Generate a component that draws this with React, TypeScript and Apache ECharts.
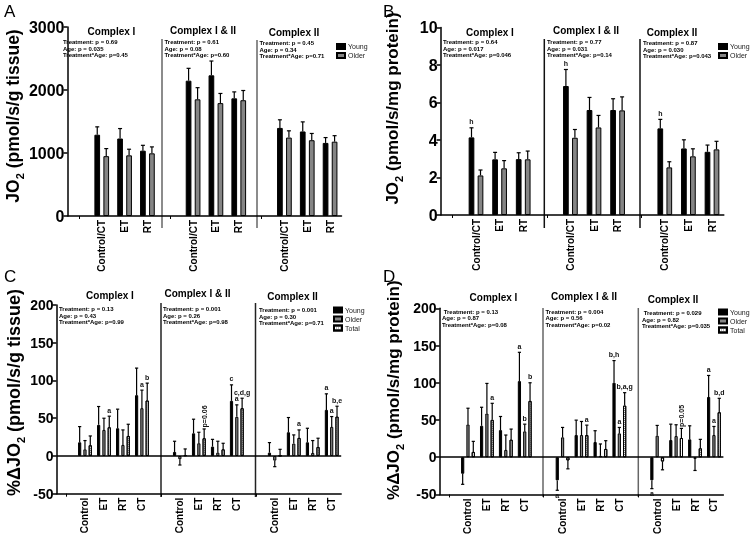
import React, { useEffect, useRef } from 'react';
import * as echarts from 'echarts';

const FONT = 'Liberation Sans';

// ---------- categories ----------
const catsAB = ['', 'Control/CT', 'ET', 'RT', '', 'Control/CT', 'ET', 'RT', '', 'Control/CT', 'ET', 'RT'];
const catsCD = ['', 'Control', 'ET', 'RT', 'CT', '', 'Control', 'ET', 'RT', 'CT', '', 'Control', 'ET', 'RT', 'CT'];

// ---------- Panel A : JO2 (pmol/s/g tissue) ----------
const aYoung = [null, 1290, 1230, 1037, null, 2148, 2233, 1868, null, 1398, 1342, 1160];
const aYoungErr = [null, 125, 158, 85, null, 196, 227, 102, null, 129, 152, 85];
const aOlder = [null, 950, 963, 995, null, 1852, 1792, 1838, null, 1245, 1203, 1180];
const aOlderErr = [null, 120, 97, 102, null, 185, 153, 154, null, 107, 107, 95];

// ---------- Panel B : JO2 (pmol/s/mg protein) ----------
const bYoung = [null, 4.14, 2.97, 2.98, null, 6.88, 5.6, 5.6, null, 4.62, 3.55, 3.37];
const bYoungErr = [null, 0.51, 0.37, 0.34, null, 0.88, 0.67, 0.6, null, 0.48, 0.46, 0.36];
const bYoungNote = ['', 'h', '', '', '', 'h', '', '', '', 'h', '', ''];
const bOlder = [null, 2.11, 2.49, 2.97, null, 4.12, 4.67, 5.58, null, 2.54, 3.13, 3.5];
const bOlderErr = [null, 0.29, 0.41, 0.44, null, 0.44, 0.64, 0.72, null, 0.3, 0.4, 0.43];

// ---------- Panel C : %ΔJO2 (pmol/s/g tissue) ----------
const cYoung = [null, 18.1, 41.2, 36.7, 80.5, null, 5.3, 30, 12.4, 73, null, 4.4, 31.4, 18.1, 61];
const cYoungErr = [null, 20.8, 24.3, 25.3, 35.9, null, 14.2, 18.7, 9.6, 21.2, null, 13.3, 19.5, 18.6, 21.3];
const cYoungNote = ['', '', '', '', '', '', '', '', '', 'c', '', '', '', '', 'a'];
const cOlder = [null, 8.8, 34.5, 14.6, 63.3, null, -4.4, 16.8, 4.4, 51.8, null, -6.2, 16.4, 4, 38.5];
const cOlderErr = [null, 11.6, 15.5, 19.9, 23.9, null, 7.6, 14.6, 15.1, 15.9, null, 8, 11.5, 16.4, 13.7];
const cOlderNote = ['', '', '', '', 'a', '', '', '', '', 'a', '', '', '', '', 'a'];
const cTotal = [null, 14.2, 38, 26.5, 73.5, null, 0.9, 23.5, 8.8, 63.3, null, 0.5, 23.9, 11.9, 52.2];
const cTotalErr = [null, 12.3, 14.7, 15.5, 23, null, 8.4, 12.3, 8, 13.2, null, 8.3, 10.6, 11.6, 13.7];
const cTotalNote = ['', '', 'a', '', 'b', '', '', 'p=0.06', '', 'c,d,g', '', '', 'a', '', 'b,e'];

// ---------- Panel D : %ΔJO2 (pmol/s/mg protein) ----------
const dYoung = [null, -22.2, 42.2, 36.4, 102.2, null, -31.1, 29.8, 20.4, 100, null, -31.1, 23.1, 24, 80.9];
const dYoungErr = [null, 14.2, 24.9, 18.3, 38.7, null, 13.3, 20, 15.2, 29.8, null, 11.1, 21.3, 18.2, 28.9];
const dYoungNote = ['', '', '', '', 'a', '', 'a', '', '', 'b,h', '', 'a', '', '', 'a'];
const dOlder = [null, 44, 58.7, 9.8, 34.7, null, 26.7, 29.8, 1.8, 32, null, 28.9, 28.4, -2.2, 29.8];
const dOlderErr = [null, 21.8, 40.4, 20, 9.7, null, 13.3, 18.2, 16, 8, null, 13.8, 15.2, 15.6, 11.5];
const dOlderNote = ['', '', '', '', 'b', '', '', '', '', 'a', '', '', '', '', 'a'];
const dTotal = [null, 7.1, 50.2, 23.6, 75.6, null, -4.4, 29.8, 11.1, 69.3, null, -5.8, 25.8, 12, 60.4];
const dTotalErr = [null, 14.2, 22.2, 14.2, 24.4, null, 11.2, 13.3, 11.1, 17.4, null, 11.1, 12.9, 12, 18.7];
const dTotalNote = ['', '', 'a', '', 'b', '', '', 'a', '', 'b,a,g', '', '', 'p=0.05', '', 'b,d'];

// ---------- texts ----------
const sectionTitles = ['Complex I', 'Complex I & II', 'Complex II'];
const statsA = [
  'Treatment: p = 0.69\nAge: p = 0.035\nTreatment*Age: p=0.45',
  'Treatment: p = 0.61\nAge: p = 0.08\nTreatment*Age: p=0.60',
  'Treatment: p = 0.45\nAge: p = 0.34\nTreatment*Age: p=0.71',
];
const statsB = [
  'Treatment: p = 0.64\nAge: p = 0.017\nTreatment*Age: p=0.046',
  'Treatment: p = 0.77\nAge: p = 0.031\nTreatment*Age: p=0.14',
  'Treatment: p = 0.87\nAge: p = 0.030\nTreatment*Age: p=0.043',
];
const statsC = [
  'Treatment: p = 0.13\nAge: p = 0.43\nTreatment*Age: p=0.99',
  'Treatment: p = 0.001\nAge: p = 0.26\nTreatment*Age: p=0.98',
  'Treatment: p = 0.001\nAge: p = 0.30\nTreatment*Age: p=0.71',
];
const statsD = [
  ' Treatment: p = 0.13\nAge: p = 0.87\nTreatment*Age: p=0.08',
  'Treatment: p = 0.004\nAge: p = 0.56\nTreatment*Age: p=0.02',
  ' Treatment: p = 0.029\nAge: p = 0.82\nTreatment*Age: p=0.035',
];

const YOUNG_COLOR = '#000000';
const OLDER_COLOR = '#858585';
const totalDecal = {
  symbol: 'rect',
  symbolSize: 1,
  dashArrayX: [1, 1],
  dashArrayY: [1, 1],
  color: '#7a7a7a',
  rotation: 0,
};

type SeriesDef = { name: string; data: (number | null)[]; err: (number | null)[]; note?: string[] };
type PanelDef = {
  letter: string;
  cats: string[];
  grid: { left: number; top: number; width: number; height: number };
  min: number;
  max: number;
  interval: number;
  name: string;
  nameSize: number;
  nameGap: number;
  namePad: number;
  barWidth: number;
  barGapPct: number;
  cap: number;
  tickFont: number;
  series: SeriesDef[];
  zeroLine: boolean;
};

const panels: PanelDef[] = [
  {
    letter: 'A',
    cats: catsAB,
    grid: { left: 58, top: 27, width: 283.5, height: 189 },
    min: 0, max: 3000, interval: 1000,
    name: 'JO{s|2} (pmol/s/g tissue)', nameSize: 17.5, nameGap: 32, namePad: 11,
    barWidth: 5.7, barGapPct: 58, cap: 2, tickFont: 16,
    series: [
      { name: 'Young', data: aYoung, err: aYoungErr },
      { name: 'Older', data: aOlder, err: aOlderErr },
    ],
    zeroLine: false,
  },
  {
    letter: 'B',
    cats: catsAB,
    grid: { left: 440.6, top: 27.5, width: 283.2, height: 187.5 },
    min: 0, max: 10, interval: 2,
    name: 'JO{s|2} (pmol/s/mg protein)', nameSize: 17, nameGap: 36, namePad: 25.5,
    barWidth: 5.7, barGapPct: 58, cap: 2, tickFont: 16,
    series: [
      { name: 'Young', data: bYoung, err: bYoungErr, note: bYoungNote },
      { name: 'Older', data: bOlder, err: bOlderErr },
    ],
    zeroLine: false,
  },
  {
    letter: 'C',
    cats: catsCD,
    grid: { left: 56.5, top: 305, width: 284.7, height: 188.7 },
    min: -50, max: 200, interval: 50,
    name: '%ΔJO{s|2} (pmol/s/g tissue)', nameSize: 18, nameGap: 29.5, namePad: 13.7,
    barWidth: 3.2, barGapPct: 66, cap: 1.6, tickFont: 14,
    series: [
      { name: 'Young', data: cYoung, err: cYoungErr, note: cYoungNote },
      { name: 'Older', data: cOlder, err: cOlderErr, note: cOlderNote },
      { name: 'Total', data: cTotal, err: cTotalErr, note: cTotalNote },
    ],
    zeroLine: true,
  },
  {
    letter: 'D',
    cats: catsCD,
    grid: { left: 439.6, top: 308.3, width: 283.8, height: 187.7 },
    min: -50, max: 200, interval: 50,
    name: '%ΔJO{s|2} (pmol/s/mg protein)', nameSize: 17, nameGap: 34, namePad: 22.3,
    barWidth: 3.2, barGapPct: 66, cap: 1.6, tickFont: 14,
    series: [
      { name: 'Young', data: dYoung, err: dYoungErr, note: dYoungNote },
      { name: 'Older', data: dOlder, err: dOlderErr, note: dOlderNote },
      { name: 'Total', data: dTotal, err: dTotalErr, note: dTotalNote },
    ],
    zeroLine: true,
  },
];

// layout of free texts (pixel positions)
const letterPos = [[4, 3], [383, 3], [4, 268], [383, 268]];
const titlePos = [
  [[111.5, 31], [203, 30], [294, 32]],
  [[490, 32], [586, 30], [672, 32]],
  [[110, 295], [197.5, 293], [292.5, 296]],
  [[493.5, 297], [584, 296], [673, 299]],
];
const statsPos = [
  [[63, 39], [164.5, 39], [259.5, 40]],
  [[443, 39], [547, 39], [643, 40]],
  [[59, 306], [163, 306], [259, 307]],
  [[442, 308.5], [545.5, 308.5], [642, 310]],
];
const statsTexts = [statsA, statsB, statsC, statsD];
const dividers = [
  [[162, 39, 228, '#666'], [257, 40, 228, '#666']],
  [[544.3, 39, 228, '#111'], [640, 39, 228, '#111']],
  [[161, 303, 497, '#222'], [255.5, 303, 497, '#222']],
  [[543, 308, 497, '#666'], [638.3, 308, 497, '#666']],
];
const legendPos = [[336, 43], [718, 43], [333, 306.5], [718, 308.5]];

function noteStyle(text: string, align: string, vAlign: string) {
  return {
    legacy: false,
    text,
    fill: '#111',
    textFill: '#111',
    font: `bold 7px "${FONT}"`,
    fontSize: 7,
    fontWeight: 'bold',
    fontFamily: FONT,
    align, textAlign: align,
    verticalAlign: vAlign, textVerticalAlign: vAlign,
  };
}

function buildOption() {
  const grids: any[] = [];
  const xAxes: any[] = [];
  const yAxes: any[] = [];
  const series: any[] = [];
  const legends: any[] = [];
  const graphics: any[] = [];

  panels.forEach((p, g) => {
    grids.push({ ...p.grid, containLabel: false });
    xAxes.push({
      type: 'category',
      gridIndex: g,
      data: p.cats,
      boundaryGap: true,
      axisLine: { show: true, onZero: false, lineStyle: { color: '#000', width: 1.5 } },
      axisTick: {
        show: true,
        alignWithLabel: true,
        interval: (_i: number, v: string) => v === '',
        length: 3,
        lineStyle: { color: '#000', width: 1 },
      },
      axisLabel: {
        interval: 0,
        rotate: 90,
        fontSize: 10,
        fontWeight: 'bold',
        color: '#000',
        margin: 4,
        fontFamily: FONT,
      },
      splitLine: { show: false },
    });
    yAxes.push({
      type: 'value',
      gridIndex: g,
      min: p.min,
      max: p.max,
      interval: p.interval,
      axisLine: { show: true, lineStyle: { color: '#000', width: 1.5 } },
      axisTick: { show: true, length: 4, lineStyle: { color: '#000', width: 1.5 } },
      axisLabel: {
        fontSize: p.tickFont,
        fontWeight: 'bold',
        color: '#000',
        margin: 3,
        fontFamily: FONT,
        formatter: (v: number) => String(v),
      },
      splitLine: { show: false },
      name: p.name,
      nameLocation: 'middle',
      nameGap: p.nameGap,
      nameTextStyle: {
        fontSize: p.nameSize,
        fontWeight: 'bold',
        color: '#000',
        fontFamily: FONT,
        lineHeight: 24,
        padding: [0, 0, 0, p.namePad],
        rich: {
          s: { fontSize: 11, fontWeight: 'bold', color: '#000', fontFamily: FONT, verticalAlign: 'bottom', lineHeight: 11 },
        },
      },
    });

    const n = p.series.length;
    const gap = (p.barWidth * p.barGapPct) / 100;
    const total = n * p.barWidth + (n - 1) * gap;

    p.series.forEach((s, k) => {
      const isTotal = s.name === 'Total';
      const bar: any = {
        type: 'bar',
        name: s.name,
        xAxisIndex: g,
        yAxisIndex: g,
        data: s.data,
        barWidth: p.barWidth,
        barGap: p.barGapPct + '%',
        z: 2,
        silent: true,
        itemStyle: {
          color: s.name === 'Young' ? YOUNG_COLOR : s.name === 'Older' ? OLDER_COLOR : '#ffffff',
          borderColor: '#000',
          borderWidth: 1,
          decal: isTotal ? totalDecal : undefined,
        },
      };
      if (k === 0 && p.zeroLine) {
        bar.markLine = {
          silent: true,
          symbol: ['none', 'none'],
          label: { show: false },
          lineStyle: { color: '#000', width: 1.5, type: 'solid' },
          data: [{ yAxis: 0 }],
        };
      }
      series.push(bar);

      const offset = -total / 2 + p.barWidth / 2 + k * (p.barWidth + gap);
      const note = s.note;
      const cap = p.cap;
      const errData: any[] = [];
      s.data.forEach((v, i) => {
        if (v !== null && s.err[i] !== null) errData.push([i, v, s.err[i]]);
      });
      series.push({
        type: 'custom',
        name: s.name + ' error',
        xAxisIndex: g,
        yAxisIndex: g,
        z: 3,
        silent: true,
        itemStyle: { color: '#000' },
        data: errData,
        renderItem: (_params: any, api: any) => {
          const i = api.value(0);
          const v = api.value(1);
          const e = api.value(2);
          const sgn = v < 0 ? -1 : 1;
          const base = api.coord([i, v]);
          const tip = api.coord([i, v + sgn * e]);
          const x = base[0] + offset;
          const children: any[] = [
            { type: 'line', shape: { x1: x, y1: base[1], x2: x, y2: tip[1] }, style: { stroke: '#000', lineWidth: 1.2 } },
            { type: 'line', shape: { x1: x - cap, y1: tip[1], x2: x + cap, y2: tip[1] }, style: { stroke: '#000', lineWidth: 1.2 } },
          ];
          const label = note ? note[i] : '';
          if (label) {
            if (label.startsWith('p=')) {
              children.push({
                type: 'text',
                x: x,
                y: tip[1] - 1.5,
                rotation: Math.PI / 2,
                style: noteStyle(label, 'left', 'middle'),
              });
            } else {
              const below = sgn < 0;
              children.push({
                type: 'text',
                x: x,
                y: below ? tip[1] + 1.5 : tip[1] - 2.5,
                style: noteStyle(label, 'center', below ? 'top' : 'bottom'),
              });
            }
          }
          return { type: 'group', children };
        },
      });
    });

    legends.push({
      data: p.series.map((s) => s.name),
      orient: 'vertical',
      left: legendPos[g][0],
      top: legendPos[g][1],
      icon: 'rect',
      itemWidth: 8,
      itemHeight: 5,
      itemGap: 2,
      padding: 0,
      selectedMode: false,
      textStyle: { fontSize: 7, color: '#222222', fontFamily: FONT, padding: [0, 0, 0, -2], lineHeight: 6 },
    });

    // panel letter
    graphics.push({
      type: 'text',
      x: letterPos[g][0],
      y: letterPos[g][1],
      style: { text: p.letter, font: `17px "${FONT}"`, fill: '#000', align: 'left', textAlign: 'left', verticalAlign: 'top', textVerticalAlign: 'top' },
    });
    sectionTitles.forEach((t, j) => {
      graphics.push({
        type: 'text',
        x: titlePos[g][j][0],
        y: titlePos[g][j][1],
        style: { text: t, font: `bold 10px "${FONT}"`, fill: '#000', align: 'center', textAlign: 'center', verticalAlign: 'middle', textVerticalAlign: 'middle' },
      });
      graphics.push({
        type: 'text',
        x: statsPos[g][j][0],
        y: statsPos[g][j][1],
        style: {
          text: statsTexts[g][j],
          font: `bold 6px "${FONT}"`,
          lineHeight: 6.5,
          fill: '#000',
          align: 'left', textAlign: 'left',
          verticalAlign: 'top', textVerticalAlign: 'top',
        },
      });
    });
    dividers[g].forEach((d: any) => {
      graphics.push({
        type: 'line',
        shape: { x1: d[0], y1: d[1], x2: d[0], y2: d[2] },
        style: { stroke: d[3], lineWidth: 1.5 },
        silent: true,
      });
    });
  });

  return {
    animation: false,
    backgroundColor: '#ffffff',
    textStyle: { fontFamily: FONT },
    grid: grids,
    xAxis: xAxes,
    yAxis: yAxes,
    legend: legends,
    series,
    graphic: graphics,
  };
}

export default function App() {
  const ref = useRef<HTMLDivElement>(null);
  useEffect(() => {
    if (!ref.current) return;
    const chart = echarts.init(ref.current, undefined, { renderer: 'svg' });
    chart.setOption(buildOption() as any);
    return () => chart.dispose();
  }, []);
  return (
    <div
      ref={ref}
      style={{
        position: 'absolute',
        left: 0,
        top: 0,
        width: 750,
        height: 537,
        background: '#fff',
        willChange: 'transform',
      }}
    />
  );
}
